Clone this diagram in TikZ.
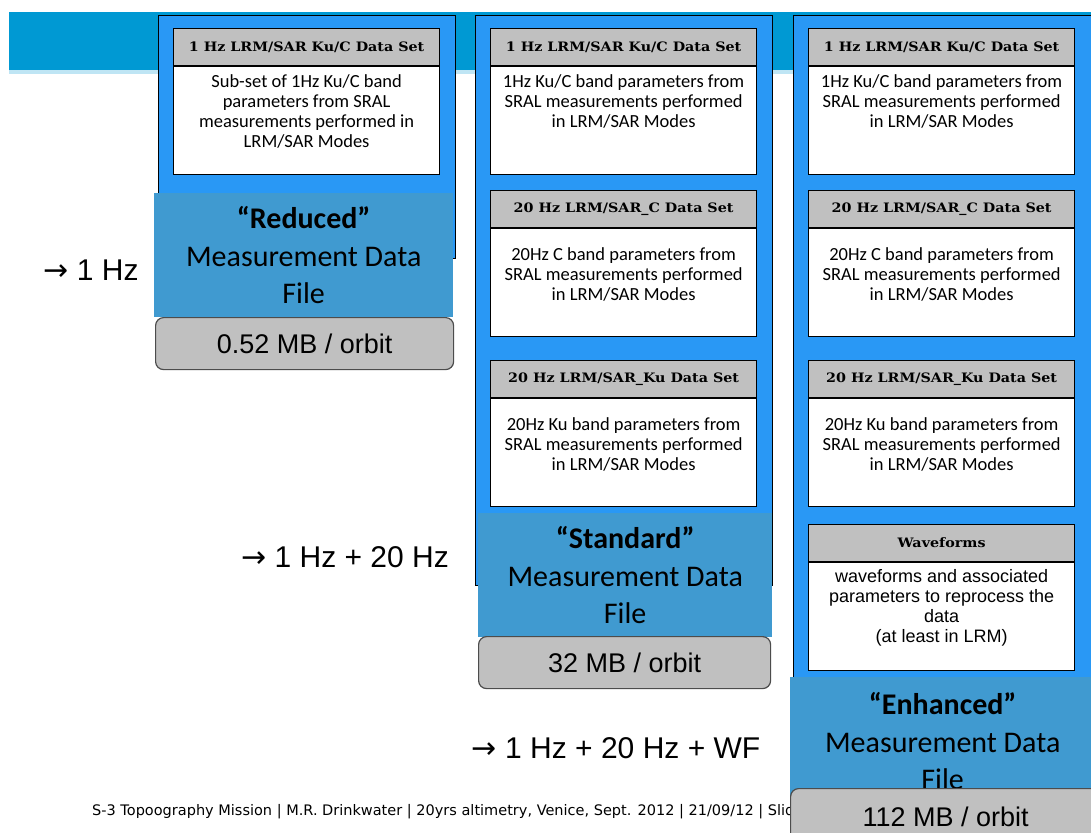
\documentclass[tikz,border=0pt]{standalone}
\usepackage{fontspec}
\setmainfont{Carlito}
\newfontfamily\hdfont[FakeStretch=1.1]{DejaVu Serif}
\newfontfamily\arialf{Liberation Sans}
\newfontfamily\footf{DejaVu Sans}
\newfontfamily\arrowf{DejaVu Sans}
\definecolor{hdblue}{RGB}{0,153,211}
\definecolor{colblue}{RGB}{41,152,245}
\definecolor{lblue}{RGB}{64,154,208}
\definecolor{hgrey}{RGB}{192,192,192}
\newcommand\dset[6]{%
  \node[dshead] (#1h) at (#2,#3) {#4};
  \node[dsbody] (#1b) at (#1h.south west) {\parbox[t][100pt][t]{258pt}{\centering\vspace*{#5}#6}};
}
\newcommand\rarr{{\arrowf →}}
\begin{document}
\begin{tikzpicture}[x=1pt,y=-1pt,
  outer/.style={draw=black, line width=1.2pt, fill=colblue, inner sep=0pt, anchor=north west},
  dshead/.style={draw=black, line width=1.2pt, fill=hgrey, minimum width=266pt, minimum height=37pt, inner sep=0pt, anchor=north west, font=\hdfont\bfseries\fontsize{13}{15}\selectfont},
  dsbody/.style={draw=black, line width=1.2pt, fill=white, minimum width=266pt, inner sep=4pt, anchor=north west, font=\fontsize{18.5}{20}\selectfont},
  flabel/.style={fill=lblue, inner sep=0pt, anchor=north west, align=center, font=\fontsize{30}{37.5}\selectfont},
  gbox/.style={draw=black!70, line width=1.2pt, fill=hgrey, rounded corners=8pt, inner sep=0pt, anchor=north west, font=\arialf\fontsize{27}{30}\selectfont},
  hzlabel/.style={font=\arialf\fontsize{30}{34}\selectfont, inner sep=0pt}
]
\useasboundingbox (0,0) rectangle (1091,832);
\clip (0,0) rectangle (1091,832);
\fill[white] (0,0) rectangle (1091,832);
% header band
\fill[hdblue] (9,12) rectangle (1091,70);
\fill[hdblue!25] (9,70) rectangle (1091,74);

% outer columns
\node[outer, minimum width=297pt, minimum height=243pt] (col1) at (158,15) {};
\node[outer, minimum width=297pt, minimum height=570pt] (col2) at (475,15) {};
\node[outer, minimum width=302pt, minimum height=665pt] (col3) at (793,15) {};

% column 1
\dset{a1}{173}{28}{1 Hz LRM/SAR Ku/C Data Set}{4pt}{Sub-set of 1Hz Ku/C band\\parameters from SRAL\\measurements performed in\\LRM/SAR Modes}

% column 2
\dset{b1}{490}{28}{1 Hz LRM/SAR Ku/C Data Set}{4pt}{1Hz Ku/C band parameters from\\SRAL measurements performed\\in LRM/SAR Modes}
\dset{b2}{490}{190}{20 Hz LRM/SAR\_C Data Set}{15pt}{20Hz C band parameters from\\SRAL measurements performed\\in LRM/SAR Modes}
\dset{b3}{490}{360}{20 Hz LRM/SAR\_Ku Data Set}{15pt}{20Hz Ku band parameters from\\SRAL measurements performed\\in LRM/SAR Modes}

% column 3
\dset{c1}{808}{28}{1 Hz LRM/SAR Ku/C Data Set}{4pt}{1Hz Ku/C band parameters from\\SRAL measurements performed\\in LRM/SAR Modes}
\dset{c2}{808}{190}{20 Hz LRM/SAR\_C Data Set}{15pt}{20Hz C band parameters from\\SRAL measurements performed\\in LRM/SAR Modes}
\dset{c3}{808}{360}{20 Hz LRM/SAR\_Ku Data Set}{15pt}{20Hz Ku band parameters from\\SRAL measurements performed\\in LRM/SAR Modes}
\dset{c4}{808}{524}{Waveforms}{3pt}{\arialf\fontsize{18}{20}\selectfont waveforms and associated\\parameters to reprocess the\\data\\(at least in LRM)}

% file labels and sizes
\node[flabel, minimum width=299pt, minimum height=124pt] (fl1) at (154,193) {\textbf{“Reduced”}\\Measurement Data\\File};
\node[gbox, minimum width=298pt, minimum height=52pt] (g1) at (155,317) {0.52 MB / orbit};
\node[flabel, minimum width=294pt, minimum height=124pt] (fl2) at (478,513) {\textbf{“Standard”}\\Measurement Data\\File};
\node[gbox, minimum width=292pt, minimum height=52pt] (g2) at (478,636) {32 MB / orbit};

% rate labels
\node[hzlabel] (r1) at (91,270) {\rarr{} 1 Hz};
\node[hzlabel] (r2) at (345,557) {\rarr{} 1 Hz + 20 Hz};
\node[hzlabel] (r3) at (616,748) {\rarr{} 1 Hz + 20 Hz + WF};

% footer
\node[anchor=west, inner sep=0pt] (foot) at (92,812) {\resizebox{711pt}{!}{\footf\fontsize{12}{14}\selectfont S-3 Topoography Mission | M.R. Drinkwater | 20yrs altimetry, Venice, Sept. 2012 | 21/09/12 | Slide}};

\node[flabel, minimum width=305pt, minimum height=128pt] (fl3) at (790,677) {\textbf{“Enhanced”}\\Measurement Data\\File};
\node[gbox, minimum width=310pt, minimum height=56pt] (g3) at (790,788) {112 MB / orbit};
\end{tikzpicture}
\end{document}
